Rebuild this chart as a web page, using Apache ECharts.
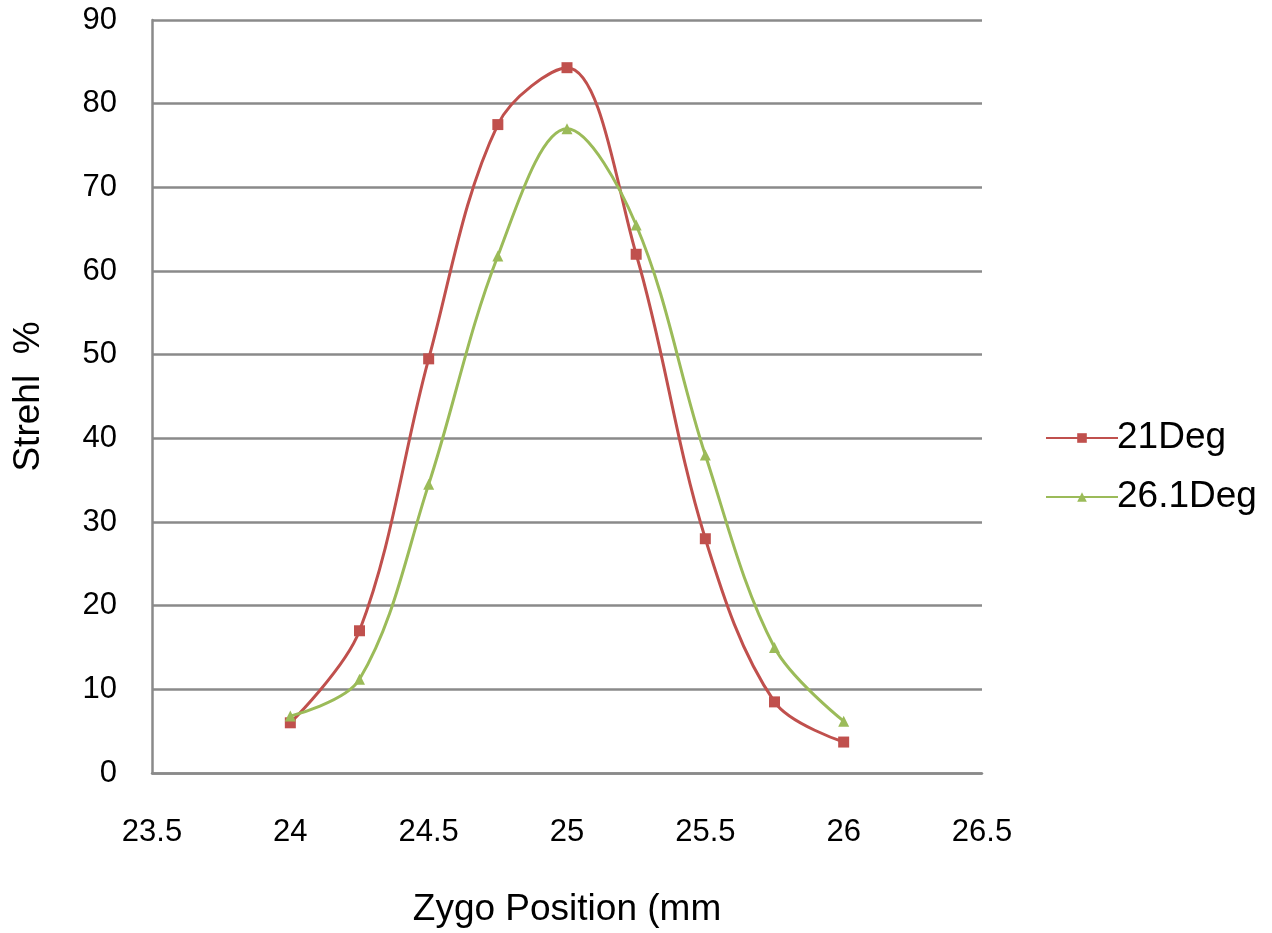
<!DOCTYPE html>
<html>
<head>
<meta charset="utf-8">
<script src="https://cdn.jsdelivr.net/npm/echarts@6/dist/echarts.min.js"></script>
<style>html,body{margin:0;padding:0;background:#fff}#c{width:1272px;height:933px}</style>
</head>
<body>
<div id="c"></div>
<script>
const positions = [24, 24.25, 24.5, 24.75, 25, 25.25, 25.5, 25.75, 26];
const deg21 = [6.0, 17.0, 49.5, 77.5, 84.3, 62.0, 28.0, 8.5, 3.7];
const deg261 = [6.8, 11.2, 34.5, 61.8, 77.0, 65.5, 38.0, 15.0, 6.2];
const seriesNames = ['21Deg', '26.1Deg'];

const chart = echarts.init(document.getElementById('c'));
const font = 'Liberation Sans';
chart.setOption({
  backgroundColor: '#ffffff',
  animation: false,
  grid: { left: 152, right: 290, top: 20, bottom: 160 },
  legend: {
    orient: 'vertical',
    left: 1040,
    top: 413,
    itemWidth: 72,
    itemHeight: 12,
    itemGap: 19,
    textStyle: { fontFamily: font, fontSize: 37, color: '#000', lineHeight: 40, padding: [0,0,0,-6] },
    data: seriesNames
  },
  xAxis: {
    type: 'value',
    min: 23.5, max: 26.5, interval: 0.5,
    name: 'Zygo Position (mm',
    nameLocation: 'middle',
    nameGap: 118,
    nameTextStyle: { fontFamily: font, fontSize: 37, color: '#000' },
    axisLine: { show: true, lineStyle: { color: '#8a8a8a', width: 2.5 } },
    axisTick: { show: false },
    splitLine: { show: false },
    axisLabel: { fontFamily: font, fontSize: 31, color: '#000', margin: 44 }
  },
  yAxis: {
    type: 'value',
    min: 0, max: 90, interval: 10,
    name: 'Strehl  %',
    nameLocation: 'middle',
    nameRotate: 90,
    nameGap: 105,
    nameTextStyle: { fontFamily: font, fontSize: 37, color: '#000' },
    axisLine: { show: true, lineStyle: { color: '#8a8a8a', width: 2.5 } },
    axisTick: { show: false },
    splitLine: { show: true, lineStyle: { color: '#8a8a8a', width: 2.5 } },
    axisLabel: { fontFamily: font, fontSize: 31, color: '#000', margin: 35 }
  },
  series: [
    {
      name: seriesNames[0], type: 'line', smooth: 0.35,
      data: positions.map((x, i) => [x, deg21[i]]),
      symbol: 'rect', symbolSize: 11,
      lineStyle: { color: '#C0504D', width: 3 },
      itemStyle: { color: '#C0504D' }
    },
    {
      name: seriesNames[1], type: 'line', smooth: 0.35,
      data: positions.map((x, i) => [x, deg261[i]]),
      symbol: 'triangle', symbolSize: 11,
      lineStyle: { color: '#9BBB59', width: 3 },
      itemStyle: { color: '#9BBB59' }
    }
  ]
});
</script>
</body>
</html>
